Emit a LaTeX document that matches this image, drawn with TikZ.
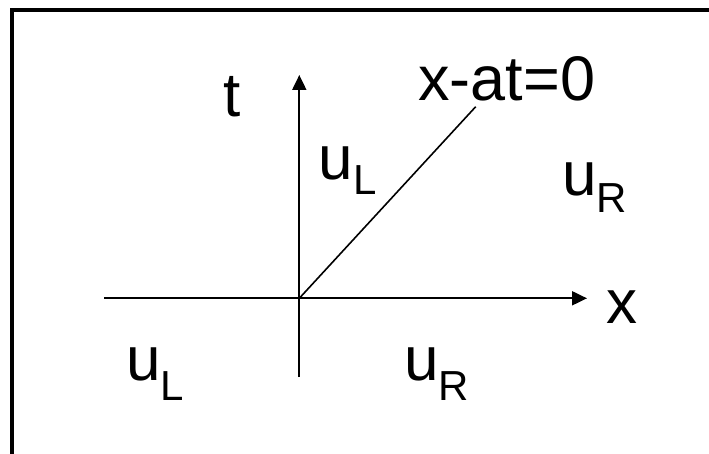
\documentclass[tikz,border=0pt]{standalone}
\usepackage{fontspec}
\setmainfont{Liberation Sans}
\usetikzlibrary{arrows.meta}
\tikzset{
  lbl/.style={inner sep=0pt, anchor=base west, font=\fontsize{62}{62}\selectfont},
  axis/.style={line width=2pt, -{Triangle[length=15pt,width=14pt]}},
  frame/.style={line width=4pt},
}
\newcommand{\sbL}[2]{\raisebox{-#1pt}{\fontsize{42}{42}\selectfont #2}}
\begin{document}
\begin{tikzpicture}[x=1pt,y=-1pt]
\useasboundingbox (0,0) rectangle (709,454);
\clip (0,0) rectangle (709,454);
\fill[white] (0,0) rectangle (709,454);
\draw[frame] (11.5,10.5) rectangle (730,480);
\coordinate (O) at (299.3,298.3);
\coordinate (xs) at (104,298.3);
\coordinate (xe) at (587,298.3);
\coordinate (ts) at (299.3,377);
\coordinate (te) at (299.3,75);
\coordinate (de) at (475.7,106.7);
\draw[axis] (xs) -- (xe);
\draw[axis] (ts) -- (te);
\draw[line width=1.6pt] (O) -- (de);
\node[lbl] (t) at (223,117) {t};
\node[lbl, font=\fontsize{63}{63}\selectfont] (sh) at (418,100.5) {x-at=0};
\node[lbl] (uL1) at (318.6,180) {u\sbL{15}{L}};
\node[lbl] (uR1) at (562,196) {u\sbL{17}{R}};
\node[lbl] (xl) at (606,323) {x};
\node[lbl] (uL2) at (126,380) {u\sbL{20}{L}};
\node[lbl] (uR2) at (404,380) {u\sbL{20}{R}};
\end{tikzpicture}
\end{document}
